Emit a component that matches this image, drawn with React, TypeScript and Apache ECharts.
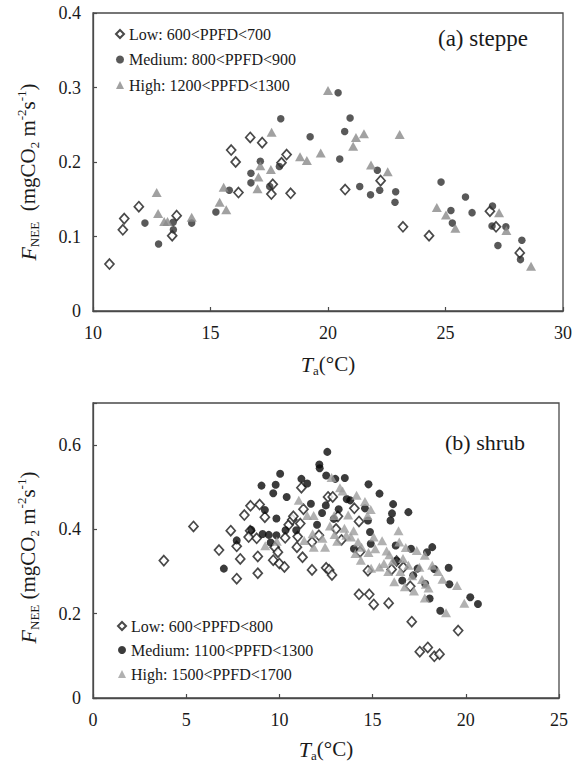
import React, { useEffect, useRef } from "react";
import * as echarts from "echarts";

const FONT = "Liberation Serif";

// (a) steppe
const steppeNames = ["Low: 600<PPFD<700", "Medium: 800<PPFD<900", "High: 1200<PPFD<1300"];
const steppeXTicks = [10, 15, 20, 25, 30];
const steppeYTicks = [0, 0.1, 0.2, 0.3, 0.4];
const steppeLow = [
  [10.7, 0.063], [11.27, 0.109], [11.33, 0.124], [11.95, 0.14], [13.37, 0.101], [13.56, 0.128],
  [15.88, 0.216], [16.07, 0.2], [16.19, 0.159], [16.69, 0.233], [17.2, 0.226], [17.65, 0.17],
  [17.59, 0.157], [18.02, 0.199], [18.24, 0.21], [18.41, 0.158], [20.73, 0.163], [22.24, 0.175],
  [23.19, 0.113], [24.3, 0.101], [26.89, 0.134], [27.15, 0.113], [28.16, 0.078],
];
const steppeMedium = [
  [12.21, 0.118], [12.79, 0.09], [13.41, 0.119], [13.42, 0.109], [14.2, 0.118], [15.23, 0.133],
  [15.8, 0.162], [16.72, 0.185], [16.72, 0.172], [17.12, 0.201], [17.52, 0.167], [17.93, 0.194],
  [17.99, 0.258], [19.24, 0.234], [20.43, 0.293], [20.5, 0.204], [20.71, 0.241], [20.94, 0.259],
  [21.35, 0.167], [21.81, 0.156], [22.1, 0.189], [22.2, 0.162], [22.88, 0.16], [22.85, 0.146],
  [24.81, 0.173], [25.23, 0.135], [25.29, 0.118], [25.85, 0.153], [26.13, 0.132], [27.0, 0.141],
  [26.98, 0.114], [27.23, 0.088], [27.57, 0.113], [28.25, 0.095], [28.19, 0.069],
];
const steppeHigh = [
  [12.71, 0.159], [12.77, 0.131], [13.03, 0.12], [13.17, 0.12], [14.2, 0.126], [15.39, 0.146],
  [15.56, 0.166], [15.67, 0.136], [17.0, 0.164], [17.04, 0.18], [17.12, 0.195], [17.57, 0.19],
  [17.6, 0.24], [18.81, 0.207], [19.1, 0.202], [19.69, 0.212], [20.0, 0.296], [21.07, 0.221],
  [21.19, 0.233], [21.53, 0.238], [21.83, 0.196], [22.54, 0.187], [23.05, 0.237], [24.63, 0.139],
  [25.02, 0.129], [25.42, 0.111], [27.28, 0.132], [27.59, 0.108], [28.64, 0.06],
];

// (b) shrub
const shrubNames = ["Low: 600<PPFD<800", "Medium: 1100<PPFD<1300", "High: 1500<PPFD<1700"];
const shrubXTicks = [0, 5, 10, 15, 20, 25];
const shrubYTicks = [0, 0.2, 0.4, 0.6];
const shrubLow = [
  [3.8, 0.326], [5.39, 0.407], [6.76, 0.351], [7.39, 0.397], [7.71, 0.36], [7.71, 0.283],
  [7.9, 0.33], [8.12, 0.434], [8.45, 0.456], [8.43, 0.397], [8.35, 0.382], [8.78, 0.379],
  [8.84, 0.336], [8.84, 0.296], [8.94, 0.459], [9.22, 0.429], [9.67, 0.327], [9.75, 0.358],
  [9.92, 0.346], [10.0, 0.319], [10.27, 0.311], [10.31, 0.38], [10.5, 0.411], [10.69, 0.423],
  [10.75, 0.431], [10.94, 0.358], [10.98, 0.383], [11.12, 0.414], [11.18, 0.499], [11.24, 0.334],
  [11.29, 0.448], [11.75, 0.37], [11.75, 0.304], [12.12, 0.386], [12.51, 0.309], [12.61, 0.477],
  [12.67, 0.304], [12.82, 0.292], [12.86, 0.477], [13.04, 0.401], [13.14, 0.431], [13.33, 0.375],
  [14.02, 0.45], [14.27, 0.419], [14.33, 0.347], [14.27, 0.246], [14.75, 0.302], [14.82, 0.246],
  [15.06, 0.222], [15.86, 0.225], [16.02, 0.305], [16.29, 0.325], [16.65, 0.31], [17.02, 0.265],
  [17.1, 0.181], [17.53, 0.11], [17.96, 0.12], [18.31, 0.099], [18.59, 0.104], [19.59, 0.16],
];
const shrubMedium = [
  [7.02, 0.307], [7.71, 0.374], [8.49, 0.399], [9.04, 0.504], [9.1, 0.389], [9.22, 0.446],
  [9.43, 0.387], [9.53, 0.369], [9.67, 0.486], [9.8, 0.506], [9.84, 0.426], [9.84, 0.386],
  [10.04, 0.532], [10.39, 0.477], [10.33, 0.398], [10.9, 0.398], [11.18, 0.52], [11.49, 0.509],
  [11.69, 0.461], [12.02, 0.411], [12.14, 0.554], [12.16, 0.545], [12.29, 0.439], [12.51, 0.528],
  [12.49, 0.457], [12.57, 0.584], [13.0, 0.52], [13.18, 0.448], [12.92, 0.425], [13.51, 0.522],
  [13.61, 0.472], [13.8, 0.469], [14.0, 0.354], [14.59, 0.45], [14.75, 0.421], [14.78, 0.507],
  [14.86, 0.394], [14.9, 0.366], [15.37, 0.485], [15.96, 0.421], [16.04, 0.438], [16.1, 0.46],
  [16.24, 0.362], [16.27, 0.325], [16.59, 0.279], [16.92, 0.441], [17.06, 0.354], [17.18, 0.291],
  [17.41, 0.307], [17.82, 0.271], [18.06, 0.236], [17.92, 0.346], [18.2, 0.358], [18.31, 0.306],
  [18.63, 0.207], [19.08, 0.309], [19.12, 0.27], [20.24, 0.239], [20.65, 0.223],
];
const shrubHigh = [
  [9.24, 0.361], [9.86, 0.372], [11.04, 0.469], [11.33, 0.374], [11.49, 0.433], [11.84, 0.433],
  [11.78, 0.39], [11.84, 0.358], [12.31, 0.379], [12.45, 0.358], [12.71, 0.408], [12.8, 0.523],
  [12.94, 0.433], [12.96, 0.388], [13.1, 0.372], [13.25, 0.499], [13.39, 0.491], [13.49, 0.403],
  [13.59, 0.386], [13.69, 0.434], [13.84, 0.382], [13.98, 0.397], [14.14, 0.481], [14.08, 0.343],
  [14.22, 0.37], [14.37, 0.327], [14.41, 0.358], [14.59, 0.466], [14.73, 0.433], [14.78, 0.345],
  [14.9, 0.447], [14.92, 0.308], [15.06, 0.382], [15.14, 0.354], [15.37, 0.311], [15.51, 0.373],
  [15.61, 0.319], [15.75, 0.349], [15.84, 0.3], [15.9, 0.34], [16.08, 0.325], [16.16, 0.276],
  [16.39, 0.397], [16.43, 0.37], [16.49, 0.3], [16.63, 0.331], [16.73, 0.264], [16.78, 0.357],
  [16.92, 0.315], [17.12, 0.29], [17.22, 0.254], [17.37, 0.35], [17.51, 0.31], [17.65, 0.281],
  [17.8, 0.339], [17.8, 0.237], [17.86, 0.27], [18.0, 0.261], [18.2, 0.315], [18.51, 0.3],
  [18.75, 0.282], [18.94, 0.202], [19.53, 0.267], [19.92, 0.225],
];

const AXIS_COLOR = "#4a4a4a";
const TEXT_COLOR = "#1a1a1a";

const rich = {
  i: { fontFamily: FONT, fontStyle: "italic", fontSize: 22, lineHeight: 26, color: TEXT_COLOR, verticalAlign: "middle" },
  n: { fontFamily: FONT, fontSize: 21, lineHeight: 26, color: TEXT_COLOR, verticalAlign: "middle" },
  sb: { fontFamily: FONT, fontSize: 13, lineHeight: 13, color: TEXT_COLOR, verticalAlign: "bottom" },
  sp: { fontFamily: FONT, fontSize: 13, lineHeight: 13, color: TEXT_COLOR, verticalAlign: "top" },
};

const yName = (gap: string) =>
  `{i|F}{sb|NEE}{n|${gap}(mgCO}{sb|2}{n| m}{sp|-2}{n|s}{sp|-1}{n|)}`;
const xName = "{i|T}{sb|a}{n|(°C)}";

function tickFmt(ticks: number[]) {
  return (v: number) => {
    const hit = ticks.find((t) => Math.abs(t - v) < 1e-6);
    if (hit === undefined) return "";
    return hit === 0 ? "0" : Number.isInteger(hit) ? String(hit) : hit.toFixed(1);
  };
}

function valueAxis(gridIndex: number, min: number, max: number, interval: number, ticks: number[], isX: boolean, name: string, nameGap: number, namePadding: number[]) {
  return {
    type: "value",
    gridIndex,
    min,
    max,
    interval,
    name,
    nameLocation: "middle",
    nameGap,
    nameRotate: isX ? 0 : 90,
    nameTextStyle: { fontFamily: FONT, rich, padding: namePadding },
    axisLine: { show: true, lineStyle: { color: AXIS_COLOR, width: 1.3 } },
    axisTick: { show: true, inside: true, length: 4, lineStyle: { color: AXIS_COLOR, width: 1.2 } },
    splitLine: { show: false },
    axisLabel: {
      fontFamily: FONT,
      fontSize: 18,
      color: TEXT_COLOR,
      margin: isX ? 13 : 12,
      formatter: tickFmt(ticks),
    },
  };
}

function scatter(name: string, data: number[][], idx: number, kind: "low" | "med" | "high", dark: boolean) {
  const base: any = { type: "scatter", name, data, xAxisIndex: idx, yAxisIndex: idx, z: 3 };
  if (kind === "low") {
    return { ...base, symbol: "diamond", symbolSize: [9, 10], itemStyle: { color: "#ffffff", borderColor: "#1c1c1c", borderWidth: 1.7 } };
  }
  if (kind === "med") {
    return { ...base, symbol: "circle", symbolSize: dark ? 8 : 7.5, itemStyle: { color: dark ? "#0a0a0a" : "#303030" } };
  }
  return { ...base, symbol: "triangle", symbolSize: [10, 9], itemStyle: { color: dark ? "#9d9d9d" : "#8a8a8a" } };
}

const legendBase = {
  orient: "vertical",
  itemWidth: 8,
  itemHeight: 8,
  itemGap: 9.5,
  selectedMode: false,
  textStyle: { fontFamily: FONT, fontSize: 16, color: TEXT_COLOR, lineHeight: 16 },
};

export default function App() {
  const ref = useRef<HTMLDivElement>(null);
  useEffect(() => {
    if (!ref.current) return;
    const chart = echarts.init(ref.current, undefined, { renderer: "svg" });
    chart.setOption({
      animation: false,
      grid: [
        { left: 93, top: 13, width: 473, height: 298, show: true, borderColor: AXIS_COLOR, borderWidth: 1.3, backgroundColor: "transparent" },
        { left: 93, top: 403, width: 466, height: 297, show: true, borderColor: AXIS_COLOR, borderWidth: 1.3, backgroundColor: "transparent" },
      ],
      xAxis: [
        valueAxis(0, 10, 30, 5, steppeXTicks, true, xName, 40, [0, 0, 0, 0]),
        valueAxis(1, 0, 25, 5, shrubXTicks, true, xName, 38, [0, 0, 0, 0]),
      ],
      yAxis: [
        valueAxis(0, 0, 0.4, 0.1, steppeYTicks, false, yName("  "), 52, [0, 20, 0, 0]),
        valueAxis(1, 0, 0.7, 0.2, shrubYTicks, false, yName(" "), 52, [0, 14, 0, 0]),
      ],
      legend: [
        { ...legendBase, left: 110, top: 21, data: steppeNames },
        { ...legendBase, left: 112, top: 613, itemGap: 8, data: shrubNames },
      ],
      graphic: [
        { type: "text", left: 438, top: 27, style: { text: "(a) steppe", fontFamily: FONT, fontSize: 23, fill: TEXT_COLOR } },
        { type: "text", left: 445, top: 431, style: { text: "(b) shrub", fontFamily: FONT, fontSize: 22, fill: TEXT_COLOR } },
      ],
      series: [
        scatter(steppeNames[0], steppeLow, 0, "low", false),
        scatter(steppeNames[1], steppeMedium, 0, "med", false),
        scatter(steppeNames[2], steppeHigh, 0, "high", false),
        scatter(shrubNames[0], shrubLow, 1, "low", true),
        scatter(shrubNames[1], shrubMedium, 1, "med", true),
        scatter(shrubNames[2], shrubHigh, 1, "high", true),
      ],
    });
    return () => chart.dispose();
  }, []);
  return (
    <div ref={ref} style={{ position: "fixed", left: 0, top: 0, width: 575, height: 763, background: "#fff", fontFamily: FONT }} />
  );
}
